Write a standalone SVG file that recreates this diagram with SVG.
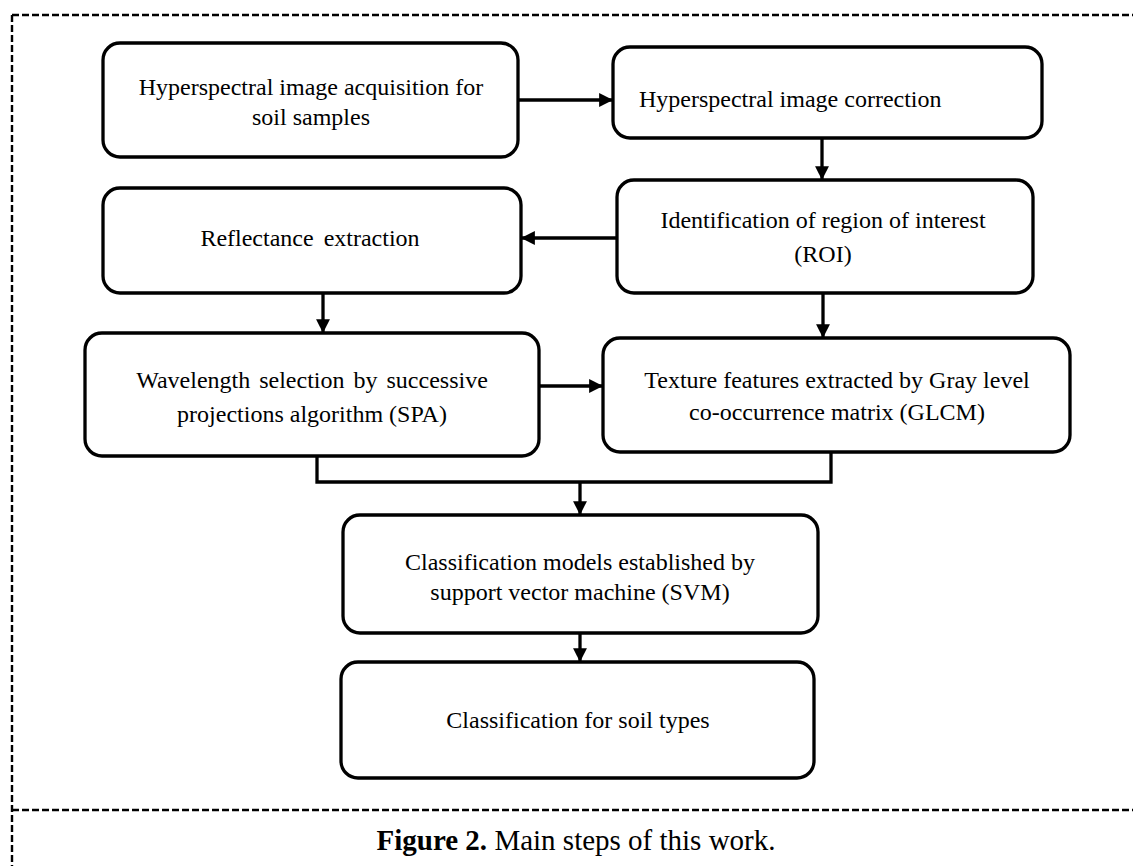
<svg xmlns="http://www.w3.org/2000/svg" width="1133" height="866" viewBox="0 0 1133 866">
  <defs>
    <style>
      .box { fill: none; stroke: #000; stroke-width: 3.3; }
      .lbl { font-family: "Liberation Serif", "Times New Roman", serif; font-size: 24px; fill: #000; text-anchor: middle; }
      .conn { fill: none; stroke: #000; stroke-width: 3.3; }
      .frame { fill: none; stroke: #000; stroke-width: 2.4; stroke-dasharray: 7 3; }
      .cap { font-family: "Liberation Serif", "Times New Roman", serif; font-size: 29px; fill: #000; text-anchor: middle; }
    </style>
    <marker id="ah" viewBox="0 0 10 10" refX="10" refY="5" markerWidth="4.2" markerHeight="4.2" orient="auto" markerUnits="strokeWidth">
      <path d="M0,0 L10,5 L0,10 z" fill="#000"/>
    </marker>
  </defs>
  <rect width="1133" height="866" fill="#fff"/>

  <g id="frame">
    <path class="frame" d="M12,15 H1133"/>
    <path class="frame" d="M12,15 V866"/>
    <path class="frame" d="M12,810 H1133"/>
  </g>

  <g id="connectors">
    <path class="conn" d="M518,100 H613" marker-end="url(#ah)"/>
    <path class="conn" d="M822,138 V180" marker-end="url(#ah)"/>
    <path class="conn" d="M617,238 H521" marker-end="url(#ah)"/>
    <path class="conn" d="M323,293 V333" marker-end="url(#ah)"/>
    <path class="conn" d="M823,293 V338" marker-end="url(#ah)"/>
    <path class="conn" d="M539,386 H603" marker-end="url(#ah)"/>
    <path class="conn" d="M317,456 V482 H831 V452"/>
    <path class="conn" d="M580,482 V515" marker-end="url(#ah)"/>
    <path class="conn" d="M580,633 V662" marker-end="url(#ah)"/>
  </g>

  <g id="n1">
    <rect class="box" x="103" y="43" width="415" height="114" rx="17"/>
    <text class="lbl" x="311" y="95">Hyperspectral image acquisition for</text>
    <text class="lbl" x="311" y="125">soil samples</text>
  </g>
  <g id="n2">
    <rect class="box" x="613" y="47" width="429" height="91" rx="17"/>
    <text class="lbl" x="639" y="107" style="text-anchor:start">Hyperspectral image correction</text>
  </g>
  <g id="n3">
    <rect class="box" x="617" y="180" width="416" height="113" rx="17"/>
    <text class="lbl" x="823" y="228">Identification of region of interest</text>
    <text class="lbl" x="823" y="262">(ROI)</text>
  </g>
  <g id="n4">
    <rect class="box" x="103" y="188" width="418" height="105" rx="17"/>
    <text class="lbl" x="310" y="246" word-spacing="4">Reflectance extraction</text>
  </g>
  <g id="n5">
    <rect class="box" x="85" y="333" width="454" height="123" rx="17"/>
    <text class="lbl" x="312" y="388" word-spacing="3">Wavelength selection by successive</text>
    <text class="lbl" x="312" y="422">projections algorithm (SPA)</text>
  </g>
  <g id="n6">
    <rect class="box" x="603" y="338" width="467" height="114" rx="17"/>
    <text class="lbl" x="837" y="388">Texture features extracted by Gray level</text>
    <text class="lbl" x="837" y="420">co-occurrence matrix (GLCM)</text>
  </g>
  <g id="n7">
    <rect class="box" x="343" y="515" width="475" height="118" rx="17"/>
    <text class="lbl" x="580" y="570">Classification models established by</text>
    <text class="lbl" x="580" y="600">support vector machine (SVM)</text>
  </g>
  <g id="n8">
    <rect class="box" x="341" y="662" width="473" height="116" rx="17"/>
    <text class="lbl" x="578" y="728">Classification for soil types</text>
  </g>

  <g id="caption">
    <text class="cap" x="576" y="850"><tspan font-weight="bold">Figure 2.</tspan> Main steps of this work.</text>
  </g>
</svg>
